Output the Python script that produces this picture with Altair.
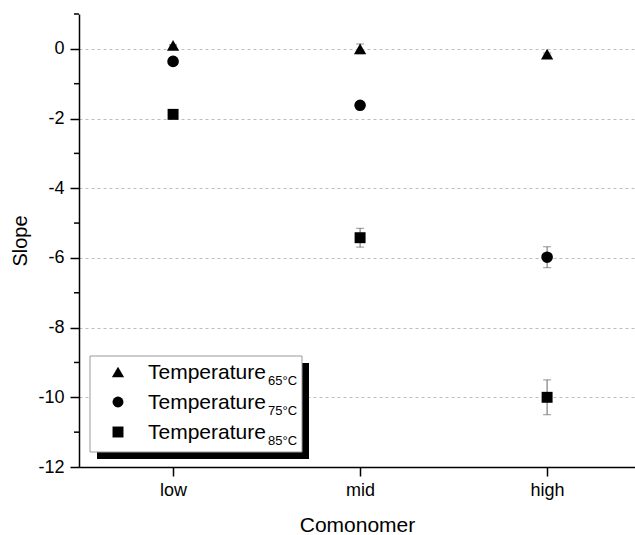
import altair as alt
import pandas as pd

# ---------------- data ----------------
categories = ["low", "mid", "high"]
series = ["65°C", "75°C", "85°C"]
slope_65 = [0.10, 0.00, -0.15]
slope_75 = [-0.36, -1.62, -5.98]
slope_85 = [-1.88, -5.42, -10.00]
err_65 = [0.02, 0.14, 0.03]
err_75 = [0.03, 0.05, 0.30]
err_85 = [0.03, 0.27, 0.50]
y_major = [-12, -10, -8, -6, -4, -2, 0]
y_minor = [-11, -9, -7, -5, -3, -1, 1]

rows = []
for s, vals, errs in zip(series, [slope_65, slope_75, slope_85], [err_65, err_75, err_85]):
    for i, (c, v, e) in enumerate(zip(categories, vals, errs)):
        rows.append({"idx": i + 1, "cat": c, "series": s, "slope": v,
                     "lo": v - e, "hi": v + e})
df = pd.DataFrame(rows)
minor_df = pd.DataFrame({"v": y_minor})

FONT = "Liberation Sans"
W, H = 556, 453

label_expr = " : ".join(
    [f"datum.value == {i + 1} ? '{c}'" for i, c in enumerate(categories)]) + " : ''"

xscale = alt.Scale(domain=[0.497, 3.47], nice=False, zero=False)
yscale = alt.Scale(domain=[-12, 1], nice=False, zero=False)

x_axis = alt.Axis(values=[1, 2, 3], labelExpr=label_expr, grid=False,
                  tickSize=9, labelPadding=5, titlePadding=15,
                  labelFontSize=18, titleFontSize=21,
                  titleFontWeight="normal", domainColor="black",
                  tickColor="black", domainWidth=1.5, tickWidth=1.5,
                  labelColor="black", titleColor="black")
y_axis = alt.Axis(values=y_major, labelExpr="toString(datum.value)",
                  grid=True, gridDash=[3, 3],
                  gridColor="#bdbdbd", gridWidth=1, tickSize=9,
                  labelPadding=6, titlePadding=7, labelFontSize=18,
                  titleFontSize=20, titleFontWeight="normal",
                  domainColor="black", tickColor="black",
                  domainWidth=1.5, tickWidth=1.5,
                  labelColor="black", titleColor="black")


def X():
    return alt.X("idx:Q", scale=xscale, title="Comonomer", axis=x_axis)


def Y(field):
    return alt.Y(field, scale=yscale, title="Slope", axis=y_axis)


base = alt.Chart(df)
ERRC = "#666666"

err_rule = base.mark_rule(color=ERRC, strokeWidth=1).encode(
    x=X(), y=Y("lo:Q"), y2="hi:Q")
cap_lo = base.mark_tick(orient="horizontal", size=8, thickness=1, color=ERRC).encode(
    x=X(), y=Y("lo:Q"))
cap_hi = base.mark_tick(orient="horizontal", size=8, thickness=1, color=ERRC).encode(
    x=X(), y=Y("hi:Q"))

points = base.mark_point(filled=True, opacity=1, color="black").encode(
    x=X(), y=Y("slope:Q"),
    shape=alt.Shape("series:N", scale=alt.Scale(domain=series,
                    range=["triangle-up", "circle", "square"]), legend=None),
    size=alt.Size("series:N", scale=alt.Scale(domain=series,
                  range=[150, 120, 120]), legend=None),
)

minor = alt.Chart(minor_df).mark_rule(color="black", strokeWidth=1.5).encode(
    y=Y("v:Q"), x=alt.value(-5), x2=alt.value(0))

# ---------------- custom legend (subscripted labels) ----------------
dummy = pd.DataFrame({"a": [0]})
lx0, lx1, ly0, ly1 = 11, 223, 342, 438
shadow = alt.Chart(dummy).mark_rect(color="black").encode(
    x=alt.value(lx0 + 7), x2=alt.value(lx1 + 7),
    y=alt.value(ly0 + 7), y2=alt.value(ly1 + 7))
box = alt.Chart(dummy).mark_rect(fill="white", stroke="#999999", strokeWidth=1).encode(
    x=alt.value(lx0), x2=alt.value(lx1), y=alt.value(ly0), y2=alt.value(ly1))
legend_layers = [shadow, box]
shapes = ["triangle-up", "circle", "square"]
sizes = [150, 120, 120]
for k, (s, shp, sz) in enumerate(zip(series, shapes, sizes)):
    yc = 358 + 30 * k
    legend_layers.append(alt.Chart(dummy).mark_point(
        filled=True, opacity=1, color="black", shape=shp, size=sz).encode(
        x=alt.value(39), y=alt.value(yc)))
    legend_layers.append(alt.Chart(dummy).mark_text(
        text="Temperature", font=FONT, fontSize=21, align="left",
        baseline="alphabetic", color="black").encode(
        x=alt.value(69), y=alt.value(yc + 7)))
    legend_layers.append(alt.Chart(dummy).mark_text(
        text=s, font=FONT, fontSize=13, align="left",
        baseline="alphabetic", color="black").encode(
        x=alt.value(189), y=alt.value(yc + 13)))

chart = alt.layer(err_rule, cap_lo, cap_hi, points, minor, *legend_layers).properties(
    width=W, height=H,
    padding={"left": 79, "top": 14, "right": 0, "bottom": 68},
    autosize=alt.AutoSizeParams(type="none"),
    background="white",
).configure(font=FONT).configure_view(stroke=None, strokeWidth=0)

chart.save("out.html", embed_options={"renderer": "svg", "actions": False})
